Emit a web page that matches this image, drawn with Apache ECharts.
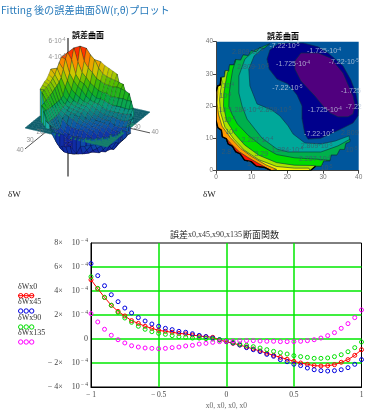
<!DOCTYPE html>
<html><head><meta charset="utf-8">
<style>html,body{margin:0;padding:0;background:#fff}#c{width:386px;height:418px}</style>
<script src="https://cdn.jsdelivr.net/npm/echarts@6/dist/echarts.min.js"></script>
</head><body><div id="c"></div>
<script>
// ---------- section-function data (values in units of 1e-4)
const xs = [-1,-.95,-.9,-.85,-.8,-.75,-.7,-.65,-.6,-.55,-.5,-.45,-.4,-.35,-.3,-.25,-.2,-.15,-.1,-.05,0,.05,.1,.15,.2,.25,.3,.35,.4,.45,.5,.55,.6,.65,.7,.75,.8,.85,.9,.95,1];
const wx0 = [4.94,4.19,3.47,2.81,2.3,1.92,1.53,1.3,1.06,.89,.72,.64,.56,.47,.42,.33,.25,.19,.14,-.08,-.22,-.36,-.5,-.67,-.83,-1,-1.19,-1.36,-1.53,-1.69,-1.86,-2,-2.11,-2.22,-2.25,-2.22,-2.14,-1.94,-1.72,-1.36,-.89];
const wx45 = [6.28,5.28,4.44,3.69,3.11,2.58,2.17,1.78,1.5,1.25,1.06,.89,.78,.64,.56,.44,.3,.2,.08,-.05,-.2,-.33,-.5,-.72,-.89,-1.05,-1.28,-1.44,-1.72,-1.89,-2.1,-2.22,-2.42,-2.56,-2.64,-2.67,-2.64,-2.56,-2.39,-2.11,-1.72];
const wx90 = [5.19,4.22,3.47,2.81,2.22,1.75,1.39,1.06,.81,.61,.47,.39,.28,.19,.14,.08,.08,.03,0,-.08,-.14,-.28,-.42,-.53,-.64,-.75,-.89,-1.03,-1.14,-1.25,-1.39,-1.47,-1.53,-1.61,-1.61,-1.58,-1.47,-1.31,-1.06,-.72,-.25];
const wx135 = [2.11,1.42,.81,.31,-.06,-.33,-.56,-.67,-.75,-.78,-.81,-.78,-.72,-.67,-.58,-.53,-.42,-.36,-.28,-.22,-.19,-.17,-.14,-.14,-.14,-.17,-.19,-.19,-.22,-.22,-.22,-.19,-.14,-.06,.08,.28,.53,.89,1.28,1.78,2.42];
const legendNames = ['δWx0','δWx45','δWx90','δWx135'];

// ---------- error surface, z in units of 1e-5; rows y=0,2..40, columns x=0,2..40
const surfaceZ = [
[0,0,0,0,0,0,0,0,40,36,33,32,30,28,0,0,0,0,0,0,0],
[0,0,0,0,0,48,44,40,35,33,31,30,29,28,27,0,0,0,0,0,0],
[0,0,0,0,52,47,38,31,28,26,25,23,22,21,20,19,18,0,0,0,0],
[0,0,0,56,45,33,27,22,15,13.5,13,13,13,13,13,13.5,14,15,0,0,0],
[0,0,57,42,31,26,19,14,11,8,7,5.5,4,3.5,3.5,3.5,4,4,8,0,0],
[0,54,42,32,25,21,15,10,8,6,5,3,0.1,-7,-7.5,-6,-3,0.1,4,0,0],
[0,48,36,28,23,18,12,8,6,5,3.5,1,-5,-11,-12,-13,-10,-8,-5,-2,0],
[0,44,32,23,18,13,9,7,5.5,4,2.8,-1,-7,-13,-15,-16,-16,-16,-14.5,-9,0],
[41,36,27,20,14,10,8,6.5,5,3.5,0.1,-3.5,-7.5,-14,-16,-16.8,-17,-17.5,-17.5,-15,0],
[38,31,25,17,11,8,6,4,2.5,-1,-3,-5,-8,-13,-16,-17.5,-18.5,-19,-19.5,-18,-10],
[36,29,23,16,11,7.5,4,1,-1,-3,-4,-6,-7.2,-13,-16,-17.3,-19,-20,-20.5,-18.5,-10],
[34,28,22.5,16,10,5,2,-1,-3,-4.5,-6,-7,-10,-14,-17.5,-19,-20,-20.5,-20,-18,-8],
[32,27,22,13.5,8,3.2,0.1,-2.5,-4,-5.5,-6.5,-8,-12,-16,-19,-20,-20.5,-20,-19,-17,0],
[0,26,23,14,7,3,-.5,-3,-4.5,-6,-7.5,-12,-16,-18.5,-20,-20.5,-20,-19.5,-18,-8,0],
[0,25,22,14,7.5,2.8,0.1,-3,-6,-8,-11,-15,-18,-19,-19.5,-19.5,-19,-18,-13,-7,0],
[0,0,21,14.5,7.5,3,-1,-6.5,-9,-12,-15,-17.2,-18.5,-19,-19,-19,-18,-14,-7,0,0],
[0,0,19,13.5,7,3,-2,-7.5,-10,-13,-15,-17,-18,-18.5,-18.5,-18,-17.5,-11,-5,0,0],
[0,0,0,14,7,3.5,-2,-6.5,-10,-12,-14,-17,-18,-18,-17.8,-17.5,-13,-7,0,0,0],
[0,0,0,0,9,5,0.1,-5,-10,-12,-13,-15,-17,-17.5,-15,-10,-7,0,0,0,0],
[0,0,0,0,0,0,3,2,-6,-9,-10,-11,-11,-10,-7,0,0,0,0,0,0],
[0,0,0,0,0,0,0,0,0,-6,-5,-6,0,0,0,0,0,0,0,0,0]
];
const surfaceStops = [-21,-12,-5,0,6,14,24,33,43,53];
const surfaceColors = ['#16129c','#0e34a8','#0c5aa8','#0c7486','#0a9c80','#0aae2c','#4abc00','#c8cc00','#f89400','#ff2000'];
const axisEnds = [[0,0,-88,0,0,58],[0,0,-22,40,0,-22],[0,0,-22,0,40,-22]];
const axisLabels3d = [['40',20,150],['30',30,140],['20',40,132],['30',137,127],['40',155,132]];
const zLabels3d = [['6',57,41],['4',57,57]];

// ---------- contour map, data coordinates (0..40)
const rim = [[15,39.3],[13.4,37.9],[12.2,38.2],[11.3,36.9],[9.9,37.2],[9,35.7],[7.6,35.9],[6.9,34.3],[5.5,34.5],[5,32.8],[3.8,32.8],[3.6,31],[2.6,31],[2.4,29.1],[1.4,28.9],[1.2,26.6],[.5,26.3],[0,24.5],[0,15.7],[.5,13.4],[1.5,12.6],[1.8,10.5],[2.9,9.9],[3.4,8.3],[4.6,7.6],[5.5,5.9],[6.8,5.2],[8,3.3],[9.9,2.8],[11.3,1.4],[13.6,1],[15.5,0],[26.4,0],[27.9,1.4],[29.5,1.4],[30.2,3.1],[31.9,3.1],[32.3,4.9],[33.9,4.9],[34.7,6.6],[36,6.6],[36.4,8.5],[37.5,9]];
const bandTeal = [[37.3,10.8],[33.4,9.2],[29.4,8.3],[24.9,8.6],[21.6,11.4],[20.2,13.9],[17.9,17],[15.7,18.8],[12.9,20.1],[11.5,20.7],[9.5,26.3],[9.2,31.5],[10.7,35.6],[14.3,39]];
const bandGreen = [[37.6,9.8],[34.2,7.7],[29.4,5.8],[23,5.8],[20.2,5.8],[17.1,6.7],[12.9,10.1],[8.7,16],[7.3,20.1],[6.4,24.1],[6.4,29.4],[8.1,34.6],[10.9,37.4],[13.5,38.7]];
const bandBright = [[32,3.2],[28,3.6],[22,4],[17,5],[13,7.5],[9,11],[6,14.5],[4.5,17.5],[3.6,20],[3.7,24],[4.2,28],[4.7,31.4],[5.5,34]];
const bandLime = [[27.5,1.6],[22,1.7],[17,2.5],[12,4.8],[8,8],[5.2,11.5],[3,15.5],[2.1,20],[2.2,24],[2.8,28],[3.2,30.5]];
const bandYellow = [[26,.8],[22,.8],[17,1.3],[12,3.4],[8,6.3],[5,9.8],[2.5,13.5],[1.3,18],[1,22],[1.3,25],[1.7,27.5]];
const bandOrange = [[17,.4],[14,1.8],[10,4.4],[7,6.8],[4,10.3],[1.7,13.8],[.7,17.5],[.3,21],[.5,24]];
const bandRed = [[15,.3],[12,2.2],[9,4.1],[6.5,5.9],[4,8.6],[3,9.9]];
const bandNavy = [[14.3,34.6],[15.1,37.4],[17.4,39.3],[20.2,39.6],[24.4,39.6],[28.6,38.4],[31.4,36.5],[35.6,32.5],[37.8,28.1],[39.2,24.1],[39.9,19.8],[39.8,17],[38.4,14.8],[35,12.9],[29.4,10.1],[25.8,9.8],[24.9,11.4],[24.1,16.3],[24.1,20.1],[22.7,23.5],[20.2,26.9],[17.1,28.4],[14.9,31.5]];
const bandPurple = [[22.1,34],[23.8,36.5],[28.6,36.5],[32.2,34.9],[35.6,30.3],[38.4,23.2],[39,20.1],[38.4,17.6],[37,16.7],[34.2,16.7],[32,17.9],[30,20.1],[27.7,23.2],[23.8,27.8],[22.1,31.5]];
const contourLabels = [
 ['-7.22','-5',19.2,38.7,1],['-1.725','-4',30.3,37,1],['2.809','-5',8.9,36.9,0],['-1.725','-4',21.6,33,1],['-7.22','-5',35.8,33.6,1],
 ['2.809','-5',10.4,32.2,0],['-7.22','-5',20,25.5,1],['-1.725','',37.8,24.8,1],['-7.22','',38.6,19.7,1],['-1.725','-4',30.5,18.8,1],
 ['-7.22','-5',28.9,11.5,1],['2.809','',37.5,11.8,0],['2.809','-5',28.2,7.7,0],['1.284','-4',8,18.7,0],['2.809','-5',16.7,18.8,0],
 ['2.287','-4',11.6,9.5,0],['1.284','-4',20,6.4,0],['2.287','-4',27.7,3.6,0],['','-5',38,6.4,0],['','-4',3.4,26.1,0],['','-4',2.6,23,0],
 ['','-4',2.4,18.8,0],['','-4',3.8,15.7,0],['','-4',4.3,11.9,0],['2.8','',2.9,5.9,0],['3.29','',12.7,5.3,0],['1.','',9.5,2,0],['','-5',31,.9,0]];

const bands = [
 {c:'#00a89a',rimFrom:0,rimTo:42,inner:bandTeal},
 {c:'#00b04c',rimFrom:0,rimTo:42,inner:bandGreen},
 {c:'#00dc00',rimFrom:8,rimTo:36,inner:bandBright},
 {c:'#a8e400',rimFrom:11,rimTo:33,inner:bandLime},
 {c:'#f4f000',rimFrom:14,rimTo:32,inner:bandYellow},
 {c:'#ff9a00',rimFrom:16,rimTo:31,inner:bandOrange},
 {c:'#ff1400',rimFrom:22,rimTo:31,inner:bandRed},
 {c:'#00008c',pts:bandNavy},
 {c:'#50007e',pts:bandPurple}
];
function bandPts(b){ return b.pts || rim.slice(b.rimFrom,b.rimTo+1).concat(b.inner); }

const ORIGIN=[68,93], XV=[-43/40,35/40], YV=[82/40,19/40], ZS=.95;
function proj(x,y,z){ return [ORIGIN[0]+x*XV[0]+y*YV[0], ORIGIN[1]+x*XV[1]+y*YV[1]-z*ZS]; }
function hex(c){return [1,3,5].map(i=>parseInt(c.substr(i,2),16));}
function colorOf(z){
 const s=surfaceStops,c=surfaceColors;
 if(z<=s[0])return c[0]; if(z>=s[s.length-1])return c[c.length-1];
 for(let i=0;i<s.length-1;i++) if(z<=s[i+1]){const t=(z-s[i])/(s[i+1]-s[i]),a=hex(c[i]),b=hex(c[i+1]);
   return 'rgb('+a.map((v,k)=>Math.round(v+(b[k]-v)*t)).join(',')+')';}
}
const quads=[];
for(let j=0;j<20;j++)for(let i=0;i<20;i++)quads.push([i,j]);
quads.sort((a,b)=>(35*a[0]+19*a[1])-(35*b[0]+19*b[1]));
const PLANE='#0f5f6c', PLANE_FRONT='#17806a', WALL='#18b0a8', MESH='rgba(0,0,0,.42)';
function renderQuad(p,api){
 const q=quads[p.dataIndex],i=q[0],j=q[1],Z=surfaceZ;
 const C=[[i,j],[i+1,j],[i+1,j+1],[i,j+1]].map(c=>({x:c[0]*2,y:c[1]*2,z:Z[c[1]][c[0]]}));
 const pt=(c,z)=>api.coord(proj(c.x,c.y,z));
 const nz=C.filter(c=>c.z!==0);
 const poly=(pts,fill,stroke)=>({type:'polygon',shape:{points:pts},style:{fill:fill,stroke:stroke,lineWidth:.5}});
 if(nz.length===4){const avg=C.reduce((s,c)=>s+c.z,0)/4;return poly(C.map(c=>pt(c,c.z)),colorOf(avg),MESH);}
 const pl=(i+j)>=26?PLANE_FRONT:PLANE;
 const kids=[poly(C.map(c=>pt(c,0)),pl,pl)];
 if(nz.length===1){kids.push({type:'line',shape:{x1:pt(nz[0],0)[0],y1:pt(nz[0],0)[1],x2:pt(nz[0],nz[0].z)[0],y2:pt(nz[0],nz[0].z)[1]},style:{stroke:colorOf(nz[0].z),lineWidth:1}});}
 else if(nz.length>=2){
  const a=nz[0],b=nz[nz.length-1],avg=nz.reduce((s,c)=>s+c.z,0)/nz.length;
  kids.push(poly([pt(a,a.z),pt(b,b.z),pt(b,0),pt(a,0)],avg>0?WALL:colorOf(avg),MESH));
  if(nz.length===3)kids.push(poly(nz.map(c=>pt(c,c.z)),colorOf(avg),MESH));
 }
 return {type:'group',children:kids};
}

const serif='"Liberation Serif","DejaVu Serif",serif', sans='"Liberation Sans",Arial,sans-serif', cjk='"Noto Sans CJK JP","Liberation Sans",sans-serif';

function lineSeries(name,vals,color,withLine){
 return {type:'line',name,xAxisIndex:2,yAxisIndex:2,data:xs.map((x,i)=>[x,vals[i]]),clip:false,
  symbol:'circle',symbolSize:4,showSymbol:true,showAllSymbol:true,
  lineStyle:{color:color,width:withLine?1:0,opacity:withLine?1:0},
  itemStyle:{color:'rgba(0,0,0,0)',borderColor:color,borderWidth:1},z:5,animation:false};
}

const legendY=[287.7,303,319,334];
const legendCols=['#ff0000','#0000e0','#00e000','#ff00ff'];
const legendMarks=[20.7,26.2,31.7];
const graphics=[];
legendNames.forEach((n,i)=>{
 graphics.push({type:'text',left:18,top:legendY[i]-5,style:{text:n,font:'8px '+serif,fill:'#333'}});
 if(i===0)graphics.push({type:'line',shape:{x1:18,y1:legendY[i]+8,x2:34,y2:legendY[i]+8},style:{stroke:legendCols[i],lineWidth:1}});
 legendMarks.forEach(x=>graphics.push({type:'circle',shape:{cx:x,cy:legendY[i]+8,r:2.2},style:{fill:'none',stroke:legendCols[i],lineWidth:1}}));
});
graphics.push({type:'text',left:1,top:5,style:{text:'Fitting 後の誤差曲面δW(r,θ)プロット',font:'10.2px '+cjk,fill:'#2a7cbc'}});
graphics.push({type:'text',left:72,top:31,style:{text:'誤差曲面',font:'bold 8px '+cjk,fill:'#000'},z:50});
graphics.push({type:'text',left:267,top:32,style:{text:'誤差曲面',font:'bold 8px '+cjk,fill:'#000'},z:50});
graphics.push({type:'text',left:8,top:190,style:{text:'δW',font:'9px '+serif,fill:'#222'}});
graphics.push({type:'text',left:203,top:190,style:{text:'δW',font:'9px '+serif,fill:'#222'}});
graphics.push({type:'text',left:170,top:230,style:{text:'誤差',font:'9px '+cjk,fill:'#222'}});
graphics.push({type:'text',left:188,top:231,style:{text:'x0,x45,x90,x135',font:'8px '+serif,fill:'#333'}});
graphics.push({type:'text',left:243,top:230,style:{text:'断面関数',font:'9px '+cjk,fill:'#222'}});

const option={
 animation:false,backgroundColor:'#fff',
 graphic:graphics,
 grid:[
  {left:0,top:0,right:0,bottom:0,show:false},
  {left:216,top:41.7,width:142.7,height:129,show:true,backgroundColor:'#00569c',borderWidth:0},
  {left:91,top:243,width:270.5,height:144,show:true,borderColor:'#000',borderWidth:1,backgroundColor:'#fff'}
 ],
 xAxis:[
  {gridIndex:0,type:'value',min:0,max:386,show:false},
  {gridIndex:1,type:'value',min:0,max:40,interval:10,splitLine:{show:false},
   axisLine:{lineStyle:{color:'#444'}},axisTick:{length:3,lineStyle:{color:'#444'}},
   axisLabel:{fontSize:6.5,color:'#777',margin:3,fontFamily:sans,showMaxLabel:true}},
  {gridIndex:2,type:'value',min:-1,max:1,interval:.5,
   splitLine:{show:true,showMinLine:false,showMaxLine:false,lineStyle:{color:'#00e800',width:1.5}},
   axisLine:{onZero:false,lineStyle:{color:'#000'}},axisTick:{show:false},
   axisLabel:{fontSize:7.5,color:'#444',fontFamily:serif,margin:4,formatter:v=>String(v).replace('-','− ')},
   name:'x0, x0, x0, x0',nameLocation:'middle',nameGap:15,nameTextStyle:{fontSize:7.5,color:'#666',fontFamily:serif}}
 ],
 yAxis:[
  {gridIndex:0,type:'value',min:0,max:418,inverse:true,show:false},
  {gridIndex:1,type:'value',min:0,max:40,interval:10,splitLine:{show:false},
   axisLine:{lineStyle:{color:'#444'}},axisTick:{length:3,lineStyle:{color:'#444'}},
   axisLabel:{fontSize:6.5,color:'#777',margin:3,fontFamily:sans}},
  {gridIndex:2,type:'value',min:-4,max:8,interval:2,
   splitLine:{show:true,showMinLine:false,showMaxLine:false,lineStyle:{color:'#00e800',width:1.5}},
   axisLine:{onZero:false,lineStyle:{color:'#000'}},axisTick:{show:false},
   axisLabel:{margin:3,fontFamily:serif,color:'#444',fontSize:8,
    formatter:v=>v===0?'{z|0}':'{a|'+String(v).replace('-','− ')+'×}{b|10}{c|− 4}',
    rich:{z:{fontSize:8,color:'#444',fontFamily:serif},
     a:{fontSize:8,color:'#444',fontFamily:serif,padding:[0,9,0,0]},
     b:{fontSize:8,color:'#444',fontFamily:serif},
     c:{fontSize:5.5,color:'#444',fontFamily:serif,verticalAlign:'top',padding:[0,0,4,1]}}}}
 ],
 series:[
  {type:'custom',xAxisIndex:0,yAxisIndex:0,z:1,silent:true,clip:false,data:axisEnds,
   renderItem:(p,api)=>{const d=axisEnds[p.dataIndex],a=api.coord(proj(d[0],d[1],d[2])),b=api.coord(proj(d[3],d[4],d[5]));
    return {type:'line',shape:{x1:a[0],y1:a[1],x2:b[0],y2:b[1]},style:{stroke:'#555',lineWidth:p.dataIndex===0?1.5:1}};}},
  {type:'custom',xAxisIndex:0,yAxisIndex:0,z:2,silent:true,clip:false,data:quads,renderItem:renderQuad},
  {type:'scatter',xAxisIndex:0,yAxisIndex:0,z:3,symbolSize:0,silent:true,data:axisLabels3d.map(l=>({value:[l[1],l[2]],name:l[0]})),
   label:{show:true,position:'inside',formatter:'{b}',fontSize:6.5,color:'#777',fontFamily:sans}},
  {type:'scatter',xAxisIndex:0,yAxisIndex:0,z:3,symbolSize:0,silent:true,data:zLabels3d.map(l=>({value:[l[1],l[2]],name:l[0]})),
   label:{show:true,position:'inside',formatter:p=>'{m|'+p.name+'·10}{e|-4}',color:'#777',rich:{m:{fontSize:6.5,color:'#777',fontFamily:sans},e:{fontSize:4.5,color:'#777',fontFamily:sans,verticalAlign:'top',padding:[0,0,3,0]}}}},
  {type:'custom',xAxisIndex:1,yAxisIndex:1,z:2,silent:true,clip:true,data:bands.map((b,i)=>i),
   renderItem:(p,api)=>({type:'polygon',shape:{points:bandPts(bands[p.dataIndex]).map(c=>api.coord(c))},
     style:{fill:bands[p.dataIndex].c,stroke:'#0a3040',lineWidth:.6}})},
  {type:'custom',xAxisIndex:1,yAxisIndex:1,z:3,silent:true,clip:true,data:[0],
   renderItem:(p,api)=>({type:'polyline',shape:{points:rim.slice(14,34).map(c=>api.coord(c))},style:{fill:'none',stroke:'#000',lineWidth:1.4}})},
  {type:'scatter',xAxisIndex:1,yAxisIndex:1,z:4,symbolSize:0,silent:true,data:contourLabels.map(l=>({value:[l[2],l[3]]})),
   label:{show:true,position:'inside',
    formatter:p=>{const l=contourLabels[p.dataIndex],k=l[4]?'w':'d';let s='';
      if(l[0])s+='{'+k+'|'+l[0]+(l[1]?'·10':'')+'}'; else if(l[1])s+='{'+k+'|10}';
      if(l[1])s+='{'+k+'e|'+l[1]+'}';return s;},
    rich:{w:{fontSize:7,color:'#c4d0e0',fontFamily:sans},we:{fontSize:4.5,color:'#c4d0e0',fontFamily:sans,verticalAlign:'top',padding:[0,0,3,0]},
     d:{fontSize:7,color:'#3c5a6c',fontFamily:sans},de:{fontSize:4.5,color:'#3c5a6c',fontFamily:sans,verticalAlign:'top',padding:[0,0,3,0]}}}},
  lineSeries(legendNames[0],wx0,legendCols[0],true),
  lineSeries(legendNames[1],wx45,legendCols[1],false),
  lineSeries(legendNames[2],wx90,legendCols[2],false),
  lineSeries(legendNames[3],wx135,legendCols[3],false)
 ]
};
const chart=echarts.init(document.getElementById('c'),null,{renderer:'canvas',width:386,height:418});
chart.setOption(option);
</script></body></html>
